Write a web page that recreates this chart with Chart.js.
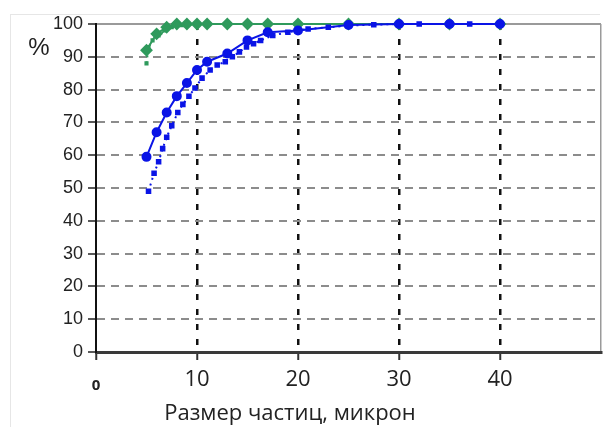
<!DOCTYPE html>
<html>
<head>
<meta charset="utf-8">
<script src="https://cdn.jsdelivr.net/npm/chart.js@4"></script>
<style>
  html, body { margin: 0; padding: 0; background: #fff; }
  #wrap { width: 608px; height: 427px; }
</style>
</head>
<body>
<div id="wrap"><canvas id="chart"></canvas></div>
<script>
// x positions (microns) of the measured points
const sizesMain = [5, 6, 7, 8, 9, 10, 11, 13, 15, 17, 20, 25, 30, 35, 40];
const blueMain = [59.5, 67, 73, 78, 82, 86, 88.5, 91, 95, 97.5, 98, 99.7, 100, 100, 100];
const greenMain = [92, 97, 99, 100, 100, 100, 100, 100, 100, 100, 100, 100, 100, 100, 100];

const sizesBlueDot = [5.2, 5.75, 6.2, 6.6, 7, 7.5, 8.1, 8.6, 9.2, 9.8, 10.5, 11.3, 12, 12.8, 13.5, 14.2, 14.9, 15.6, 16.3, 17.5, 19, 21, 23, 25, 27.5, 30, 32, 35, 37, 40];
const blueDot = [49, 54.5, 58, 62, 65.5, 69, 73, 75.5, 78, 80.5, 83.5, 86, 87.5, 88.5, 90, 91.5, 93, 94, 95, 96.5, 97.5, 98.5, 99, 99.5, 99.8, 100, 100, 100, 100, 100];

const sizesGreenDot = [5, 5.2, 5.6, 6.2, 6.8, 7.5, 8.5, 10, 15, 20, 30, 40];
const greenDot = [88, 93, 95, 96.5, 98, 99, 99.6, 100, 100, 100, 100, 100];

const xTicks = [0, 10, 20, 30, 40, 50];
const yTicks = [0, 10, 20, 30, 40, 50, 60, 70, 80, 90, 100];

const xTitle = 'Размер частиц, микрон';
const yTitle = '%';

const BLUE = '#0a14e6';
const GREEN = '#2f9a5c';

function pts(xs, ys) {
  return xs.map((x, i) => ({ x: x, y: ys[i] }));
}

const extras = {
  id: 'extras',
  beforeDraw(chart) {
    const ctx = chart.ctx;
    ctx.save();
    ctx.strokeStyle = '#e6e6e6';
    ctx.lineWidth = 1;
    ctx.beginPath();
    ctx.moveTo(10, 14.5);
    ctx.lineTo(600, 14.5);
    ctx.moveTo(10.5, 14);
    ctx.lineTo(10.5, 427);
    ctx.stroke();
    ctx.restore();
  },
  afterDraw(chart) {
    const ctx = chart.ctx;
    ctx.save();
    ctx.fillStyle = '#222';
    ctx.textAlign = 'center';
    ctx.textBaseline = 'middle';
    ctx.font = '24px "Liberation Sans"';
    ctx.fillText(yTitle, 39, 48);
    ctx.font = '22px "Open Sans"';
    ctx.fillText(xTitle, 290, 414);
    ctx.restore();
  }
};

new Chart(document.getElementById('chart'), {
  type: 'scatter',
  data: {
    datasets: [
      {
        data: pts(sizesMain, blueMain),
        showLine: true,
        borderColor: BLUE,
        backgroundColor: BLUE,
        borderWidth: 2,
        pointStyle: 'circle',
        pointRadius: 4,
        clip: false
      },
      {
        data: pts(sizesBlueDot, blueDot),
        showLine: true,
        borderColor: BLUE,
        backgroundColor: BLUE,
        borderWidth: 2,
        borderDash: [2, 4],
        pointStyle: 'rect',
        pointRadius: 2.5,
        clip: false
      },
      {
        data: pts(sizesMain, greenMain),
        showLine: true,
        borderColor: GREEN,
        backgroundColor: GREEN,
        borderWidth: 2,
        pointStyle: 'rectRot',
        pointRadius: 5,
        clip: false
      },
      {
        data: pts(sizesGreenDot, greenDot),
        showLine: true,
        borderColor: GREEN,
        backgroundColor: GREEN,
        borderWidth: 2,
        borderDash: [2, 4],
        pointStyle: 'rect',
        pointRadius: 1.5,
        clip: false
      }
    ]
  },
  options: {
    responsive: true,
    maintainAspectRatio: false,
    animation: false,
    layout: { padding: { top: 24, right: 2, left: 0, bottom: 0 } },
    plugins: {
      legend: { display: false },
      tooltip: { enabled: false }
    },
    scales: {
      x: {
        type: 'linear',
        min: 0,
        max: 50,
        afterBuildTicks: s => { s.ticks = xTicks.map(v => ({ value: v })); },
        afterFit: s => { s.height = 75; },
        ticks: {
          padding: 7,
          color: '#222',
          // the "0" sits lower and smaller than the other labels
          callback: v => (v === 50 ? '' : v === 0 ? ['', '0'] : String(v)),
          font: c => (c.tick && c.tick.value === 0
            ? { family: '"Open Sans"', size: 15, weight: 'bold', lineHeight: 0.85 }
            : { family: '"Open Sans"', size: 22 })
        },
        grid: {
          color: c => {
            const v = c.tick ? c.tick.value : null;
            if (v === 50) return '#9a9a9a';
            if (v > 0 && v < 50) return '#111';
            return 'rgba(0,0,0,0)';
          },
          lineWidth: c => (c.tick && c.tick.value === 50 ? 1.5 : 2.5),
          tickColor: c => (c.tick && c.tick.value < 50 ? '#333' : 'rgba(0,0,0,0)'),
          tickLength: 8,
          tickWidth: 2
        },
        border: {
          display: true,
          color: '#3a3a3a',
          width: 3,
          dash: c => (c.tick && c.tick.value === 50 ? [] : [6, 9])
        }
      },
      y: {
        min: 0,
        max: 100,
        afterBuildTicks: s => { s.ticks = yTicks.map(v => ({ value: v })); },
        afterFit: s => { s.width = 96; },
        ticks: {
          padding: 5,
          color: '#222',
          font: { family: '"Liberation Sans"', size: 18 }
        },
        grid: {
          color: c => {
            const v = c.tick ? c.tick.value : null;
            if (v === 0) return 'rgba(0,0,0,0)';
            if (v === 100) return '#9a9a9a';
            return '#8c8c8c';
          },
          lineWidth: 2,
          tickColor: '#222',
          tickLength: 8,
          tickWidth: 1.5
        },
        border: {
          display: true,
          color: '#111',
          width: 2,
          dash: c => (c.tick && c.tick.value === 100 ? [] : [8, 6])
        }
      }
    }
  },
  plugins: [extras]
});
</script>
</body>
</html>
